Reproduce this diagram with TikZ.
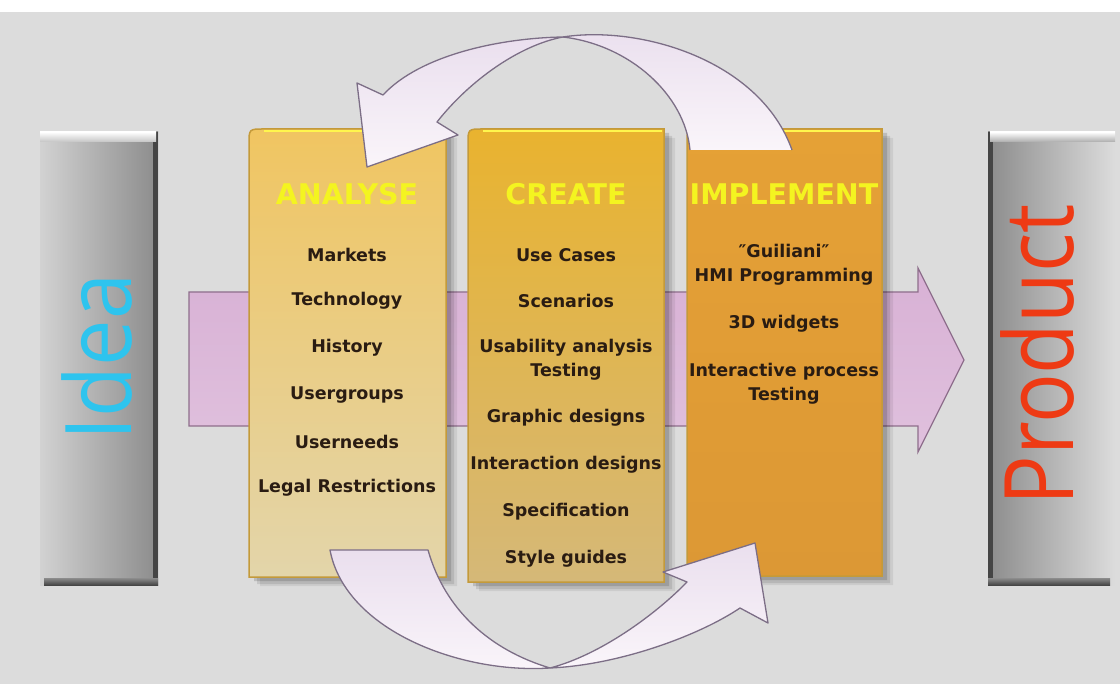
\documentclass[tikz,border=0pt]{standalone}
\usepackage{fontspec}
\setmainfont{DejaVu Sans}
\newfontfamily\bigfont{Open Sans}
\definecolor{bg}{HTML}{DCDCDC}
\definecolor{barlight}{HTML}{D2D2D2}
\definecolor{bardark}{HTML}{8C8C8C}
\definecolor{baredge}{HTML}{454545}
\definecolor{pinkfill}{HTML}{D8B1D5}
\definecolor{pinkedge}{HTML}{8E6E8C}
\definecolor{aTop}{HTML}{F0C561}
\definecolor{aMid}{HTML}{EECF80}
\definecolor{aBot}{HTML}{E3D5AA}
\definecolor{cTop}{HTML}{E9B32F}
\definecolor{cMid}{HTML}{E7B843}
\definecolor{cBot}{HTML}{D5B878}
\definecolor{iTop}{HTML}{E5A136}
\definecolor{iBot}{HTML}{DC9835}
\definecolor{colEdge}{HTML}{C49A3A}
\definecolor{headYellow}{HTML}{F4F420}
\definecolor{itemText}{HTML}{2A1C12}
\definecolor{ideaCol}{HTML}{2EC4EE}
\definecolor{prodCol}{HTML}{EE3A14}
\definecolor{arrowTop}{HTML}{EADFEE}
\definecolor{arrowBot}{HTML}{FAF5FA}
\definecolor{arrowEdge}{HTML}{7C6E86}
\tikzset{
  heading/.style={text=headYellow, font=\bfseries\fontsize{28.5}{28.5}\selectfont, inner sep=0pt},
  item/.style={text=itemText, font=\bfseries\fontsize{17.5}{24}\selectfont, align=center, inner sep=0pt},
  curvearrow/.style={top color=arrowTop, bottom color=arrowBot},
  curveedge/.style={draw=arrowEdge, line width=1.3pt},
  colshadow/.style={fill=black, opacity=#1},
}
\newcommand{\colpath}[4]{(#1,#4) -- (#1,#2+15) .. controls (#1,#2) .. (#1+15,#2) -- (#3,#2) -- (#3,#4) -- cycle}
\begin{document}
\begin{tikzpicture}[x=1pt,y=-1pt]
\useasboundingbox (0,0) rectangle (1120,684);
\fill[white] (0,0) rectangle (1120,684);
\fill[bg] (0,12) rectangle (1120,684);

% ---- Idea bar ----
\shade[left color=barlight, right color=bardark] (40,132) rectangle (158,585);
\fill[baredge] (153,132) rectangle (158,585);
\shade[top color=white, bottom color=barlight!80!bardark] (40,132) rectangle (156,142);
\shade[top color=bardark, bottom color=baredge] (44,578) rectangle (158,585);
\node[rotate=90, text=ideaCol, font=\bigfont\fontsize{92}{92}\selectfont, inner sep=0pt] (idea) at (97,357) {\scalebox{0.9}[1]{Idea}};

% ---- Product bar ----
\shade[left color=bardark, right color=bg] (988,132) rectangle (1115,585);
\fill[baredge] (988,132) rectangle (993,585);
\shade[top color=white, bottom color=bardark!60!bg] (990,132) rectangle (1115,142);
\shade[top color=bardark, bottom color=baredge] (988,578) rectangle (1110,585);
\node[rotate=90, text=prodCol, font=\bigfont\fontsize{96}{96}\selectfont, inner sep=0pt] (product) at (1037,355) {\scalebox{0.86}[1]{Product}};

% ---- big pink arrow ----
\draw[top color=pinkfill, bottom color=pinkfill!80!white, draw=pinkedge, line width=1.2pt] (189,292) -- (918,292) -- (918,268) -- (964,360) -- (918,452) -- (918,426) -- (189,426) -- cycle;

% ---- column shadows ----
\foreach \dx/\dy/\op in {11/9/0.07, 8/7/0.10, 5/4/0.14} {
  \fill[colshadow=\op] \colpath{249+\dx}{129+\dy}{446+\dx}{577+\dy};
  \fill[colshadow=\op] \colpath{468+\dx}{129+\dy}{664+\dx}{582+\dy};
  \fill[colshadow=\op] \colpath{687+\dx}{129+\dy}{882+\dx}{576+\dy};
}

% ---- columns ----
\shade[top color=aTop, middle color=aMid, bottom color=aBot] \colpath{249}{129}{446}{577};
\draw[colEdge, line width=1.5pt] \colpath{249}{129}{446}{577};
\shade[top color=cTop, middle color=cMid, bottom color=cBot] \colpath{468}{129}{664}{582};
\draw[colEdge, line width=1.5pt] \colpath{468}{129}{664}{582};
\shade[top color=iTop, bottom color=iBot] \colpath{687}{129}{882}{576};
\draw[colEdge, line width=1.5pt] \colpath{687}{129}{882}{576};
\draw[yellow!70!white, line width=1.2pt] (264,131) -- (444,131) (483,131) -- (662,131) (702,131) -- (880,131);

% ---- headings ----
\node[heading] (hAnalyse) at (347,194) {ANALYSE};
\node[heading] (hCreate) at (566,194) {CREATE};
\node[heading] (hImplement) at (784,194) {IMPLEMENT};

% ---- ANALYSE items ----
\node[item] (a1) at (347,255) {Markets};
\node[item] (a2) at (347,301) {Technology};
\node[item] (a3) at (347,348) {History};
\node[item] (a4) at (347,395) {Usergroups};
\node[item] (a5) at (347,442) {Userneeds};
\node[item] (a6) at (347,488) {Legal Restrictions};

% ---- CREATE items ----
\node[item] (c1) at (566,255) {Use Cases};
\node[item] (c2) at (566,301) {Scenarios};
\node[item] (c3) at (566,360) {Usability analysis\\Testing};
\node[item] (c4) at (566,418) {Graphic designs};
\node[item] (c5) at (566,465) {Interaction designs};
\node[item] (c6) at (566,512) {Specification};
\node[item] (c7) at (566,559) {Style guides};

% ---- IMPLEMENT items ----
\node[item] (i1) at (784,265) {″Guiliani″\\HMI Programming};
\node[item] (i2) at (784,324) {3D widgets};
\node[item] (i3) at (784,384) {Interactive process\\Testing};

% ---- top curved arrow ----
\path[curvearrow] (563,37) .. controls (640,25) and (760,60) .. (792,150) -- (690,150) .. controls (685,95) and (630,45) .. (563,37) -- cycle;
\draw[curveedge] (563,37) .. controls (640,25) and (760,60) .. (792,150);
\draw[curveedge] (690,150) .. controls (685,95) and (630,45) .. (563,37);
\path[curvearrow, curveedge, line join=round] (563,37) .. controls (500,38) and (420,55) .. (383,95) -- (357,83) -- (367,167) -- (458,135) -- (437,122) .. controls (470,80) and (520,45) .. (563,37) -- cycle;

% ---- bottom curved arrow ----
\path[curvearrow, curveedge, line join=round] (330,550) -- (428,550) .. controls (445,610) and (490,650) .. (550,668) .. controls (460,674) and (345,630) .. (330,550) -- cycle;
\path[curvearrow, curveedge, line join=round] (550,668) .. controls (620,665) and (700,635) .. (740,608) -- (768,623) -- (755,543) -- (663,572) -- (687,582) .. controls (655,615) and (600,655) .. (550,668) -- cycle;
\end{tikzpicture}
\end{document}
